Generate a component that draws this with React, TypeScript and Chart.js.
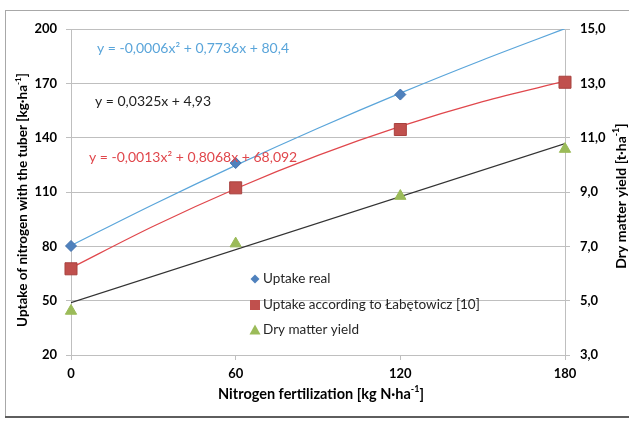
import { useEffect, useRef } from "react";
import { Chart, registerables } from "chart.js";

Chart.register(...registerables);

// ---- data ----
const nitrogenDoses = [0, 60, 120, 180];
const uptakeReal = [80.2, 126.0, 163.8, null];
const uptakeLabetowicz = [67.6, 112.3, 144.5, 170.6];
const dryMatterYield = [4.62, 7.1, 8.85, 10.58];

const trendDoses = [0, 30, 60, 90, 120, 150, 180];
const uptakeRealTrend = [80.4, 103.1, 124.7, 145.2, 164.6, 182.9, 200.2];
const uptakeLabetowiczTrend = [68.1, 91.1, 111.8, 130.2, 146.2, 159.9, 171.2];
const dryMatterTrendDoses = [0, 180];
const dryMatterTrend = [4.93, 10.78];

const leftTicks = [20, 50, 80, 110, 140, 170, 200];
const rightTicks = [3, 5, 7, 9, 11, 13, 15];
const xTicks = [0, 60, 120, 180];

const legendLabels = ["Uptake real", "Uptake according to Łabętowicz [10]", "Dry matter yield"];
const eqReal = "y = -0,0006x² + 0,7736x + 80,4";
const eqDry = "y = 0,0325x + 4,93";
const eqLab = "y = -0,0013x² + 0,8068x + 68,092";

const FONT = 'Lato, "Open Sans", sans-serif';
const BLUE = "#4F81BD";
const BLUE_TREND = "#5AA5DA";
const RED = "#C0504D";
const RED_TREND = "#E0474C";
const GREEN = "#9BBB59";
const GRID = "#BFBFBF";

type Part = { t: string; sup?: boolean };

function drawRich(ctx: CanvasRenderingContext2D, parts: Part[], cx: number, cy: number, size: number, bold: boolean) {
  const w = bold ? "bold " : "";
  const main = `${w}${size}px ${FONT}`;
  const sup = `${w}${Math.round(size * 0.62)}px ${FONT}`;
  let total = 0;
  for (const p of parts) {
    ctx.font = p.sup ? sup : main;
    total += ctx.measureText(p.t).width;
  }
  let x = cx - total / 2;
  ctx.textAlign = "left";
  ctx.textBaseline = "middle";
  for (const p of parts) {
    ctx.font = p.sup ? sup : main;
    ctx.fillText(p.t, x, p.sup ? cy - size * 0.35 : cy);
    x += ctx.measureText(p.t).width;
  }
}

const decorPlugin = {
  id: "decor",
  beforeDraw(chart: any) {
    const { ctx, width, height } = chart;
    ctx.save();
    ctx.fillStyle = "#ffffff";
    ctx.fillRect(0, 0, width, height);
    ctx.strokeStyle = "#a8a8a8";
    ctx.lineWidth = 1;
    ctx.strokeRect(5.5, 10.5, width, 406);
    ctx.strokeStyle = "#5e5e5e";
    ctx.lineWidth = 2;
    ctx.beginPath();
    ctx.moveTo(5, 417);
    ctx.lineTo(width, 417);
    ctx.stroke();
    ctx.restore();
  },
  afterDraw(chart: any) {
    const { ctx } = chart;
    ctx.save();
    // equations
    ctx.textAlign = "left";
    ctx.textBaseline = "middle";
    ctx.font = `14px ${FONT}`;
    ctx.fillStyle = BLUE_TREND;
    ctx.fillText(eqReal, 97, 48);
    ctx.fillStyle = "#222222";
    ctx.fillText(eqDry, 95, 101);
    ctx.fillStyle = RED_TREND;
    ctx.fillText(eqLab, 89, 157);

    // legend
    const lx = 255;
    const rows = [279, 305, 330];
    ctx.fillStyle = BLUE;
    ctx.beginPath();
    ctx.moveTo(lx, rows[0] - 4.5);
    ctx.lineTo(lx + 4.5, rows[0]);
    ctx.lineTo(lx, rows[0] + 4.5);
    ctx.lineTo(lx - 4.5, rows[0]);
    ctx.closePath();
    ctx.fill();
    ctx.fillStyle = RED;
    ctx.fillRect(lx - 5, rows[1] - 5, 10, 10);
    ctx.fillStyle = GREEN;
    ctx.beginPath();
    ctx.moveTo(lx, rows[2] - 5.5);
    ctx.lineTo(lx + 5.5, rows[2] + 4.5);
    ctx.lineTo(lx - 5.5, rows[2] + 4.5);
    ctx.closePath();
    ctx.fill();
    ctx.fillStyle = "#262626";
    ctx.font = `13.5px ${FONT}`;
    legendLabels.forEach((l, i) => ctx.fillText(l, lx + 8, rows[i]));

    // axis titles
    ctx.fillStyle = "#000000";
    drawRich(
      ctx,
      [{ t: "Nitrogen fertilization [kg N·ha" }, { t: "-1", sup: true }, { t: "]" }],
      321,
      394,
      14.5,
      true
    );
    ctx.save();
    ctx.translate(23, 200);
    ctx.rotate(-Math.PI / 2);
    drawRich(
      ctx,
      [{ t: "Uptake of nitrogen with the tuber [kg·ha" }, { t: "-1", sup: true }, { t: "]" }],
      0,
      0,
      13.5,
      true
    );
    ctx.restore();
    ctx.save();
    ctx.translate(621, 196);
    ctx.rotate(-Math.PI / 2);
    drawRich(ctx, [{ t: "Dry matter yield [t·ha" }, { t: "-1", sup: true }, { t: "]" }], 0, 0, 14, true);
    ctx.restore();
    ctx.restore();
  },
};

export default function App() {
  const ref = useRef<HTMLCanvasElement | null>(null);

  useEffect(() => {
    if (!ref.current) return;
    const pts = (xs: number[], ys: (number | null)[]) => xs.map((x, i) => ({ x, y: ys[i] }));
    const tickFont = { family: FONT, size: 13, weight: "bold" as const };
    const chart = new Chart(ref.current, {
      type: "line",
      data: {
        datasets: [
          {
            label: legendLabels[0],
            data: pts(nitrogenDoses, uptakeReal),
            yAxisID: "y",
            showLine: false,
            pointStyle: "rectRot",
            pointRadius: 5.5,
            backgroundColor: BLUE,
            borderColor: "#4473AE",
            borderWidth: 1,
            clip: 8,
            order: 1,
          },
          {
            label: legendLabels[1],
            data: pts(nitrogenDoses, uptakeLabetowicz),
            yAxisID: "y",
            showLine: false,
            pointStyle: "rect",
            pointRadius: 8.5,
            backgroundColor: RED,
            borderColor: "#A8423F",
            borderWidth: 1,
            clip: 10,
            order: 1,
          },
          {
            label: legendLabels[2],
            data: pts(nitrogenDoses, dryMatterYield),
            yAxisID: "y2",
            showLine: false,
            pointStyle: "triangle",
            pointRadius: 6.5,
            backgroundColor: GREEN,
            borderColor: GREEN,
            borderWidth: 1,
            clip: 10,
            order: 1,
          },
          {
            label: "trend real",
            data: pts(trendDoses, uptakeRealTrend),
            yAxisID: "y",
            borderColor: BLUE_TREND,
            borderWidth: 1.2,
            pointRadius: 0,
            cubicInterpolationMode: "monotone",
            clip: 0,
            order: 2,
          },
          {
            label: "trend lab",
            data: pts(trendDoses, uptakeLabetowiczTrend),
            yAxisID: "y",
            borderColor: RED_TREND,
            borderWidth: 1.2,
            pointRadius: 0,
            cubicInterpolationMode: "monotone",
            clip: 0,
            order: 2,
          },
          {
            label: "trend dry",
            data: pts(dryMatterTrendDoses, dryMatterTrend),
            yAxisID: "y2",
            borderColor: "#333333",
            borderWidth: 1.2,
            pointRadius: 0,
            clip: 0,
            order: 2,
          },
        ],
      },
      options: {
        animation: false,
        responsive: false,
        layout: { padding: { top: 29, bottom: 27, left: 0, right: 0 } },
        plugins: { legend: { display: false }, tooltip: { enabled: false } },
        scales: {
          x: {
            type: "linear",
            min: 0,
            max: 180,
            afterBuildTicks: (s: any) => {
              s.ticks = xTicks.map((v) => ({ value: v }));
            },
            afterFit: (s: any) => {
              s.height = 40;
            },
            grid: { drawOnChartArea: false, drawTicks: true, tickLength: 5, color: GRID },
            border: { display: true, color: GRID },
            ticks: { font: tickFont, color: "#000", padding: 6, maxRotation: 0 },
          },
          y: {
            type: "linear",
            position: "left",
            min: 20,
            max: 200,
            afterBuildTicks: (s: any) => {
              s.ticks = leftTicks.map((v) => ({ value: v }));
            },
            afterFit: (s: any) => {
              s.width = 71;
            },
            grid: { color: GRID, tickLength: 5, drawTicks: true },
            border: { display: true, color: GRID },
            ticks: { font: tickFont, color: "#000", padding: 9 },
          },
          y2: {
            type: "linear",
            position: "right",
            min: 3,
            max: 15,
            afterBuildTicks: (s: any) => {
              s.ticks = rightTicks.map((v) => ({ value: v }));
            },
            afterFit: (s: any) => {
              s.width = 64;
            },
            grid: { drawOnChartArea: false, color: GRID, tickLength: 5, drawTicks: true },
            border: { display: true, color: GRID },
            ticks: {
              font: tickFont,
              color: "#000",
              padding: 10,
              callback: (v: any) => Number(v).toFixed(1).replace(".", ","),
            },
          },
        },
      },
      plugins: [decorPlugin],
    });
    return () => chart.destroy();
  }, []);

  return (
    <div style={{ position: "fixed", left: 0, top: 0, width: 629, height: 422, background: "#fff" }}>
      <canvas ref={ref} width={629} height={422} style={{ display: "block" }} />
    </div>
  );
}
